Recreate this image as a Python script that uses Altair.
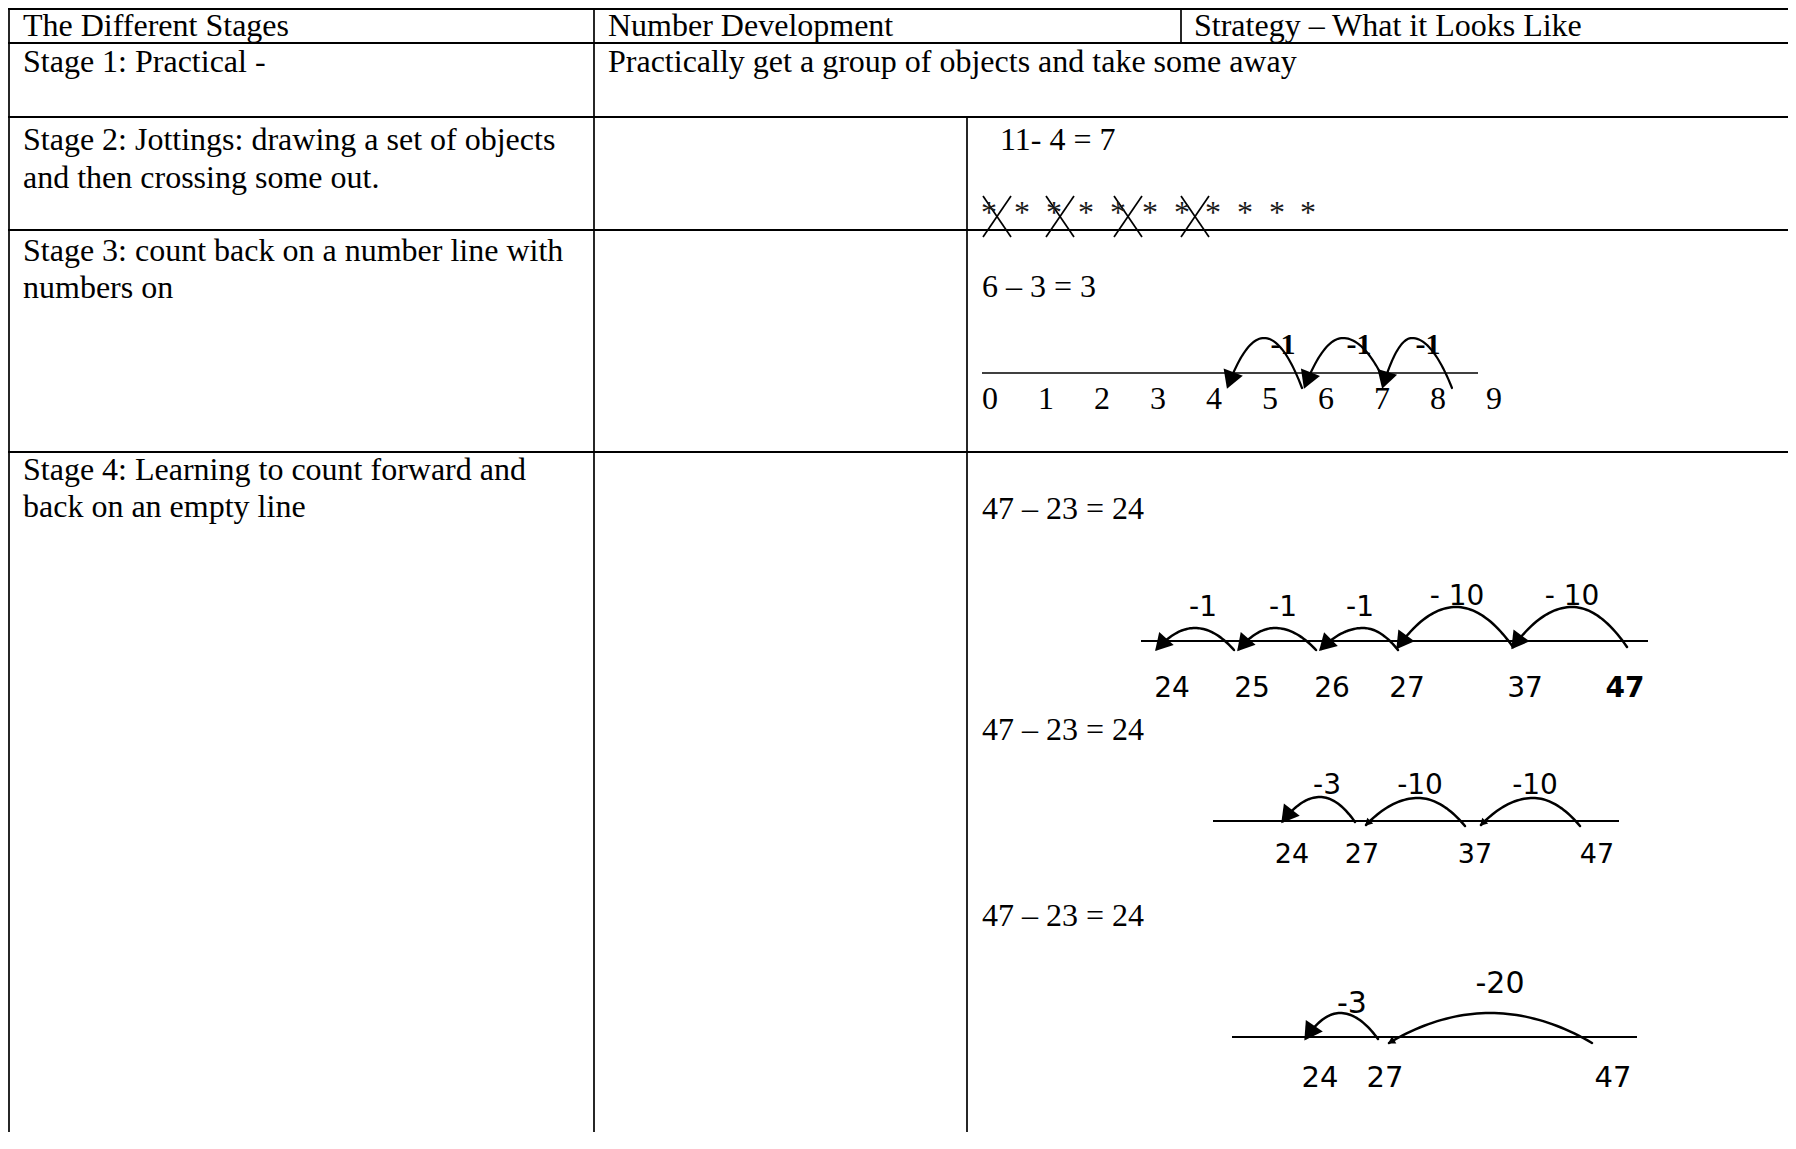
import altair as alt
import numpy as np
import pandas as pd

# ---------------- content ----------------
HEADERS = ["The Different Stages", "Number Development", "Strategy – What it Looks Like"]
STAGE_TEXT = [
    "Stage 1: Practical -",
    "Stage 2: Jottings: drawing a set of objects",
    "and then crossing some out.",
    "Stage 3: count back on a number line with",
    "numbers on",
    "Stage 4: Learning to count forward and",
    "back on an empty line",
]
DEV_TEXT = ["Practically get a group of objects and take some away"]
EQUATIONS = ["11- 4 = 7", "6 – 3 = 3", "47 – 23 = 24", "47 – 23 = 24", "47 – 23 = 24"]
STARS = ["*", "*", "*", "*", "*", "*", "*", "*", "*", "*", "*"]
NL3_TICKS = ["0", "1", "2", "3", "4", "5", "6", "7", "8", "9"]
NL3_JUMPS = ["-1", "-1", "-1"]
NL4A_TICKS = ["24", "25", "26", "27", "37", "47"]
NL4A_JUMPS = ["-1", "-1", "-1", "- 10", "- 10"]
NL4B_TICKS = ["24", "27", "37", "47"]
NL4B_JUMPS = ["-3", "-10", "-10"]
NL4C_TICKS = ["24", "27", "47"]
NL4C_JUMPS = ["-3", "-20"]

# ---------------- layout (page pixels) ----------------
SERIF = "Liberation Serif"
SANS = "DejaVu Sans"
XDOM = [8, 1788]
YDOM = [8, 1132]
BORDER = 9
H_RULES_Y = [BORDER, 43, 117, 230, 452]
V_RULES = [(BORDER, BORDER, 1149), (594, BORDER, 1149), (1181, BORDER, 43), (967, 117, 1149)]
TXT_SIZE = 32
HEADER_POS = [(23, 36), (608, 36), (1194, 36)]
STAGE_POS = [(23, 72), (23, 150), (23, 188), (23, 261), (23, 298), (23, 480), (23, 517)]
DEV_POS = [(608, 72)]
EQ_POS = [(1000, 150), (982, 297), (982, 519), (982, 740), (982, 926)]
STAR_X = [989, 1022, 1054, 1086, 1118, 1150, 1182, 1213, 1245, 1277, 1308]
STAR_BASE = 223
CROSS_CX = [997, 1060, 1128, 1195]
CROSS_Y = (196, 237)
CROSS_HW = 14

NL3 = dict(y=373, x=(982, 1478), ticks_x=[990, 1046, 1102, 1158, 1214, 1270, 1326, 1382, 1438, 1494],
           base=409, size=32)
ARCS3 = [
    dict(right=(1302, 388), peak=(1264, 338), tip=(1228, 386), lab=(1283, 345), arrow=420),
    dict(right=(1383, 378), peak=(1343, 338), tip=(1305, 386), lab=(1359, 345), arrow=420),
    dict(right=(1452, 388), peak=(1412, 338), tip=(1383, 386), lab=(1428, 345), arrow=420),
]
NL4 = [
    dict(y=641, x=(1141, 1648), ticks_x=[1172, 1252, 1332, 1407, 1525, 1625], base=697, size=28,
         lab_size=28, ticks=NL4A_TICKS, jumps=NL4A_JUMPS, bold=["47"],
         arcs=[
             dict(right=(1234, 650), peak=(1195, 628), tip=(1157, 649), lab=(1203, 608), arrow=380),
             dict(right=(1316, 650), peak=(1275, 628), tip=(1239, 649), lab=(1283, 608), arrow=380),
             dict(right=(1398, 650), peak=(1363, 628), tip=(1321, 649), lab=(1360, 608), arrow=380),
             dict(right=(1513, 647), peak=(1456, 607), tip=(1398, 647), lab=(1457, 597), arrow=400),
             dict(right=(1627, 647), peak=(1572, 607), tip=(1513, 647), lab=(1572, 597), arrow=400),
         ]),
    dict(y=821, x=(1213, 1619), ticks_x=[1292, 1362, 1475, 1597], base=863, size=27,
         lab_size=28, ticks=NL4B_TICKS, jumps=NL4B_JUMPS, bold=[],
         arcs=[
             dict(right=(1355, 822), peak=(1320, 797), tip=(1283, 821), lab=(1327, 786), arrow=400),
             dict(right=(1465, 826), peak=(1418, 798), tip=(1366, 825), lab=(1420, 786), arrow=70),
             dict(right=(1580, 826), peak=(1533, 798), tip=(1481, 825), lab=(1535, 786), arrow=70),
         ]),
    dict(y=1037, x=(1232, 1637), ticks_x=[1320, 1385, 1613], base=1087, size=29,
         lab_size=30, ticks=NL4C_TICKS, jumps=NL4C_JUMPS, bold=[],
         arcs=[
             dict(right=(1378, 1039), peak=(1340, 1013), tip=(1306, 1038), lab=(1352, 1004), arrow=420),
             dict(right=(1592, 1043), peak=(1490, 1013), tip=(1389, 1043), lab=(1500, 984), arrow=70),
         ]),
]


def X(field="x"):
    return alt.X(f"{field}:Q", scale=alt.Scale(domain=XDOM, nice=False, zero=False), axis=None)


def Y(field="y"):
    return alt.Y(f"{field}:Q", scale=alt.Scale(domain=YDOM, nice=False, zero=False, reverse=True), axis=None)


# ---------------- rules (table grid + number lines + crosses) ----------------
rules = []
for y in H_RULES_Y:
    rules.append(dict(x=BORDER - 1, y=y, x2=1800, y2=y, sw=2))
for (x, ya, yb) in V_RULES:
    rules.append(dict(x=x, y=ya - 1, x2=x, y2=yb, sw=1.7))
rules.append(dict(x=NL3["x"][0], y=NL3["y"], x2=NL3["x"][1], y2=NL3["y"], sw=1.5))
for nl in NL4:
    rules.append(dict(x=nl["x"][0], y=nl["y"], x2=nl["x"][1], y2=nl["y"], sw=2))
for cx in CROSS_CX:
    rules.append(dict(x=cx - CROSS_HW, y=CROSS_Y[0], x2=cx + CROSS_HW, y2=CROSS_Y[1], sw=1.7))
    rules.append(dict(x=cx + CROSS_HW, y=CROSS_Y[0], x2=cx - CROSS_HW, y2=CROSS_Y[1], sw=1.7))
rules_df = pd.DataFrame(rules)

rule_layer = alt.Chart(rules_df).mark_rule(color="black", strokeCap="butt").encode(
    x=X(), y=Y(), x2=alt.X2("x2:Q"), y2=alt.Y2("y2:Q"),
    strokeWidth=alt.StrokeWidth("sw:Q", scale=None),
)

# ---------------- arcs and arrowheads ----------------
curve_rows, arrow_rows = [], []


def add_arc(aid, a, sw):
    xr, yr = a["right"]
    xp, yp = a["peak"]
    xt, yt = a["tip"]
    t = np.linspace(0, 1, 24)
    xa = xr + (xp - xr) * t
    ya = yp + (yr - yp) * (1 - t) ** 2
    xb = xp + (xt - xp) * t[1:]
    yb = yp + (yt - yp) * t[1:] ** 2
    xs = np.concatenate([xa, xb])
    ys = np.concatenate([ya, yb])
    for i, (xx, yy) in enumerate(zip(xs, ys)):
        curve_rows.append(dict(arc=aid, i=i, x=float(xx), y=float(yy), sw=sw))
    dx, dy = xt - xp, 2 * (yt - yp)
    n = np.hypot(dx, dy)
    ux, uy = dx / n, dy / n
    ang = (np.degrees(np.arctan2(ux, -uy)) + 360) % 360
    back = 0.433 * np.sqrt(a["arrow"])
    arrow_rows.append(dict(x=xt - ux * back, y=yt - uy * back, angle=float(ang), size=a["arrow"]))


for k, a in enumerate(ARCS3):
    add_arc(f"s3_{k}", a, 2.2)
for j, nl in enumerate(NL4):
    for k, a in enumerate(nl["arcs"]):
        add_arc(f"s4_{j}_{k}", a, 2.5)

curve_layer = alt.Chart(pd.DataFrame(curve_rows)).mark_line(color="black", strokeCap="round").encode(
    x=X(), y=Y(), detail="arc:N", order="i:Q",
    strokeWidth=alt.StrokeWidth("sw:Q", scale=None),
)
arrow_layer = alt.Chart(pd.DataFrame(arrow_rows)).mark_point(
    shape="triangle", filled=True, color="black", opacity=1, strokeWidth=0
).encode(
    x=X(), y=Y(),
    angle=alt.Angle("angle:Q", scale=None),
    size=alt.Size("size:Q", scale=None),
)

# ---------------- text ----------------
table_rows = []
for t, (x, y) in zip(HEADERS, HEADER_POS):
    table_rows.append(dict(text=t, x=x, y=y))
for t, (x, y) in zip(STAGE_TEXT, STAGE_POS):
    table_rows.append(dict(text=t, x=x, y=y))
for t, (x, y) in zip(DEV_TEXT, DEV_POS):
    table_rows.append(dict(text=t, x=x, y=y))
for t, (x, y) in zip(EQUATIONS, EQ_POS):
    table_rows.append(dict(text=t, x=x, y=y))
table_text = alt.Chart(pd.DataFrame(table_rows)).mark_text(
    font=SERIF, fontSize=TXT_SIZE, align="left", baseline="alphabetic", color="black"
).encode(x=X(), y=Y(), text="text:N")

star_df = pd.DataFrame(dict(text=STARS, x=STAR_X, y=[STAR_BASE] * len(STARS)))
star_text = alt.Chart(star_df).mark_text(
    font=SERIF, fontSize=32, align="center", baseline="alphabetic", color="#1a1a1a"
).encode(x=X(), y=Y(), text="text:N")

nl3_df = pd.DataFrame(dict(text=NL3_TICKS, x=NL3["ticks_x"], y=[NL3["base"]] * len(NL3_TICKS)))
nl3_text = alt.Chart(nl3_df).mark_text(
    font=SERIF, fontSize=NL3["size"], align="center", baseline="alphabetic", color="black"
).encode(x=X(), y=Y(), text="text:N")

j3_df = pd.DataFrame(dict(text=NL3_JUMPS, x=[a["lab"][0] for a in ARCS3], y=[a["lab"][1] for a in ARCS3]))
j3_text = alt.Chart(j3_df).mark_text(
    font=SERIF, fontSize=30, fontWeight="bold", align="center", baseline="middle", color="black"
).encode(x=X(), y=Y(), text="text:N")

num_rows, bold_rows, lab_rows = [], [], []
for nl in NL4:
    for t, x in zip(nl["ticks"], nl["ticks_x"]):
        row = dict(text=t, x=x, y=nl["base"], size=nl["size"])
        (bold_rows if t in nl["bold"] else num_rows).append(row)
    for t, a in zip(nl["jumps"], nl["arcs"]):
        lab_rows.append(dict(text=t, x=a["lab"][0], y=a["lab"][1], size=nl["lab_size"]))

num_text = alt.Chart(pd.DataFrame(num_rows)).mark_text(
    font=SANS, align="center", baseline="alphabetic", color="black"
).encode(x=X(), y=Y(), text="text:N", size=alt.Size("size:Q", scale=None))
bold_text = alt.Chart(pd.DataFrame(bold_rows)).mark_text(
    font=SANS, fontWeight="bold", align="center", baseline="alphabetic", color="black"
).encode(x=X(), y=Y(), text="text:N", size=alt.Size("size:Q", scale=None))
lab_text = alt.Chart(pd.DataFrame(lab_rows)).mark_text(
    font=SANS, align="center", baseline="middle", color="black"
).encode(x=X(), y=Y(), text="text:N", size=alt.Size("size:Q", scale=None))

chart = alt.layer(
    rule_layer, curve_layer, arrow_layer,
    table_text, star_text, nl3_text, j3_text, num_text, bold_text, lab_text,
).properties(
    width=XDOM[1] - XDOM[0],
    height=YDOM[1] - YDOM[0],
    padding=0,
    autosize=alt.AutoSizeParams(type="none"),
    background="white",
).configure_view(strokeWidth=0)

chart.save("out.html", embed_options={"renderer": "svg", "actions": False})
